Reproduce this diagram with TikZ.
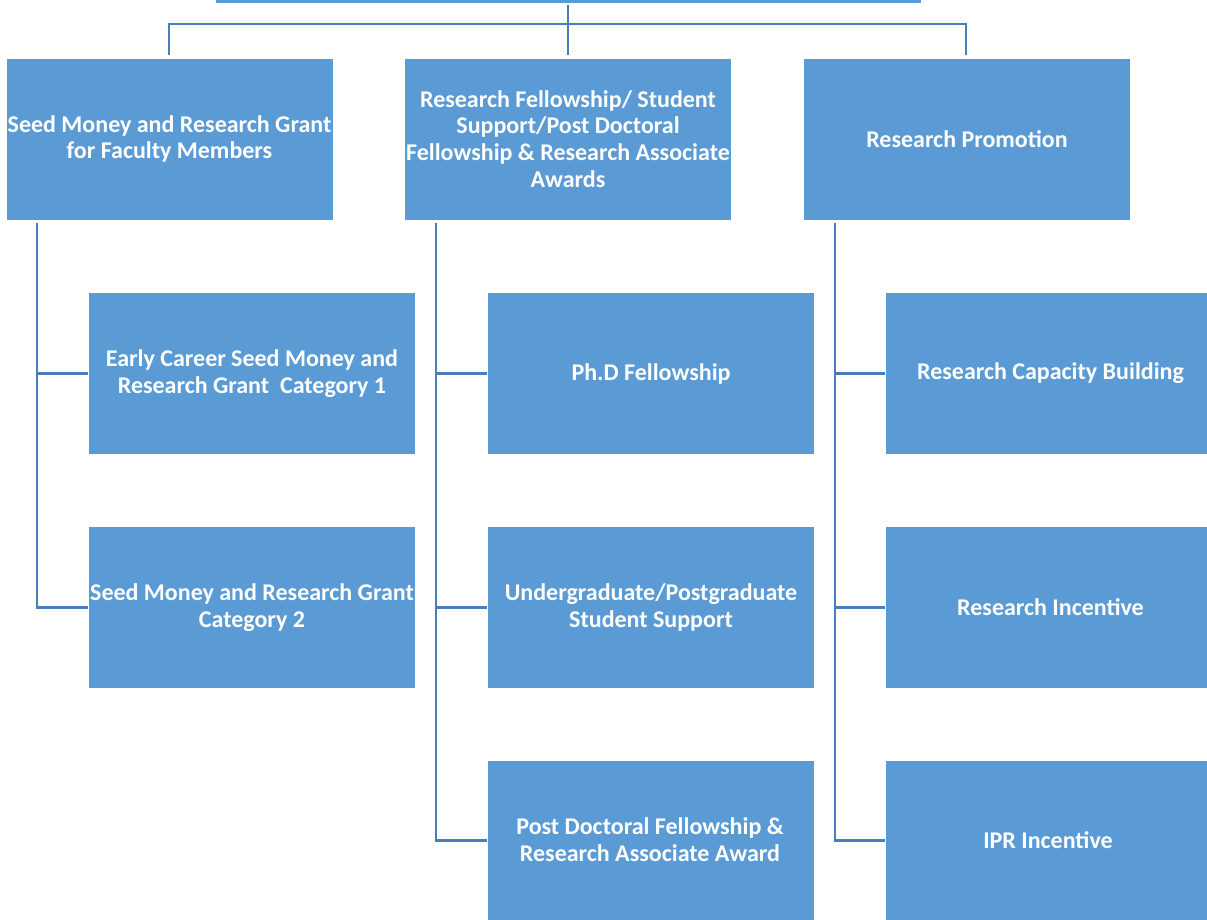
\documentclass[tikz,border=0pt]{standalone}
\usepackage{fontspec}
\setmainfont{Carlito}
\definecolor{boxfill}{HTML}{5B9BD5}
\definecolor{boxline}{HTML}{4A7EBB}
\begin{document}
\begin{tikzpicture}[x=1pt,y=-1pt,
  lbl/.style={text=white, font=\fontsize{24}{26.8}\selectfont\bfseries, align=center},
  box/.style={lbl, fill=boxfill, draw=white, line width=1pt, rectangle, minimum width=327pt, minimum height=162pt, inner sep=0pt, anchor=north west},
  conn/.style={draw=boxline, line width=2.6pt}]
\useasboundingbox (0,0) rectangle (1207,919);
\clip (0,0) rectangle (1207,919);
\node[box, minimum width=706pt, minimum height=60pt, anchor=south west] (top) at (215,3.5) {};
\node[box] (a) at (5.5,57.5) {Seed Money and Research Grant\\for Faculty Members};
\node[box] (b) at (404,57.5) {Research Fellowship/ Student\\Support/Post Doctoral\\Fellowship \& Research Associate\\Awards};
\node[box] (c) at (803,57.5) {Research Promotion};
\node[box] (a1) at (88,292) {Early Career Seed Money and\\Research Grant\ \ Category 1};
\node[box] (a2) at (88,526) {Seed Money and Research Grant\\Category 2};
\node[box] (b1) at (487,292) {Ph.D Fellowship};
\node[box] (b2) at (487,526) {Undergraduate/Postgraduate\\Student Support};
\node[box, minimum height=170pt] (b3) at (487,760) {};
\node[lbl] (b3t) at (650,840) {Post Doctoral Fellowship \&\\Research Associate Award};
\node[box, minimum width=330pt] (c1) at (885,292) {Research Capacity Building};
\node[box, minimum width=330pt] (c2) at (885,526) {Research Incentive};
\node[box, minimum width=330pt, minimum height=170pt] (c3) at (885,760) {};
\node[lbl] (c3t) at (1048,840) {IPR Incentive};
% top connectors
\draw[conn] (568,5) -- (568,55);
\draw[conn] (169,55) -- (169,24) -- (966,24) -- (966,55);
% column connectors
\draw[conn] (37,223) |- (a1.west);
\draw[conn] (37,373) |- (a2.west);
\draw[conn] (436,223) |- (b1.west);
\draw[conn] (436,373) |- (b2.west);
\draw[conn] (436,606) |- ([yshift=5pt]b3.west);
\draw[conn] (835,223) |- (c1.west);
\draw[conn] (835,373) |- (c2.west);
\draw[conn] (835,606) |- ([yshift=5pt]c3.west);
\end{tikzpicture}
\end{document}
